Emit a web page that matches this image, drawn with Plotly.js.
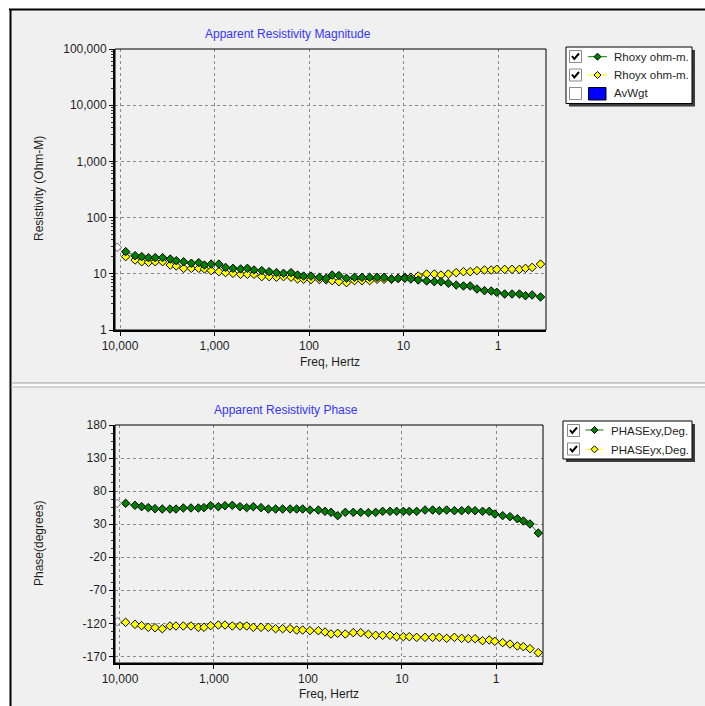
<!DOCTYPE html>
<html><head><meta charset="utf-8">
<script src="https://cdn.plot.ly/plotly-3.0.1.min.js"></script>
<style>html,body{margin:0;padding:0;background:#fff;}#chart{width:705px;height:706px;}</style>
</head><body><div id="chart"></div>
<script>
// ---------- data ----------
const freq = [8710, 6925, 5884, 4995, 4242, 3545, 2939, 2537, 2120, 1757, 1468, 1278, 1085, 899, 764, 638, 529, 449, 382, 316, 264, 221, 186, 155, 132, 114, 95.3, 77.6, 65.9, 56.9, 48.3, 40.1, 33.0, 27.5, 22.8, 19.05, 16.06, 13.4, 11.4, 9.68, 8.36, 6.98, 5.69, 4.72, 4.01, 3.35, 2.77, 2.32, 1.97, 1.67, 1.39, 1.18, 1.03, 0.85, 0.71, 0.593, 0.512, 0.435, 0.355];
const rhoxy = [24.8, 21.0, 20.2, 19.4, 19.4, 19.4, 18.3, 17.1, 16.4, 15.4, 15.8, 14.3, 14.9, 14.9, 13.0, 12.5, 12.2, 12.5, 11.7, 11.4, 10.9, 10.5, 10.2, 10.5, 9.5, 9.1, 9.1, 8.65, 8.3, 9.5, 9.3, 8.3, 8.65, 8.65, 8.65, 8.65, 8.65, 8.08, 8.3, 8.3, 8.08, 7.76, 7.45, 7.24, 7.24, 6.78, 6.32, 6.07, 6.07, 5.37, 5.01, 4.94, 4.68, 4.37, 4.37, 4.37, 4.08, 4.2, 3.87];
const rhoyx = [20.2, 17.6, 16.4, 16.0, 16.4, 16.4, 14.3, 13.8, 12.5, 12.5, 12.5, 12.2, 11.4, 10.9, 10.5, 10.2, 9.8, 9.8, 9.8, 8.9, 8.9, 8.7, 8.9, 8.7, 8.1, 8.0, 7.9, 7.9, 7.8, 7.55, 7.24, 6.95, 7.55, 7.55, 7.55, 7.98, 7.98, 7.98, 8.32, 8.67, 8.67, 9.14, 9.92, 9.92, 9.52, 9.92, 10.5, 10.9, 10.9, 11.4, 11.7, 11.7, 12.0, 12.0, 12.0, 12.0, 12.5, 13.0, 14.9];
const phasexy = [61.5, 58.5, 56.5, 55.0, 53.4, 52.9, 52.9, 52.9, 54.5, 54.5, 54.5, 55.0, 58.0, 56.5, 58.0, 58.5, 56.5, 55.0, 56.5, 55.0, 52.9, 52.9, 52.9, 52.9, 52.9, 52.9, 51.4, 51.4, 49.4, 47.9, 42.9, 47.9, 47.9, 47.9, 47.4, 47.9, 49.4, 49.4, 49.4, 49.4, 49.4, 49.4, 51.4, 51.4, 50.4, 51.4, 50.4, 50.4, 51.4, 50.4, 49.4, 49.4, 45.4, 42.9, 41.4, 38.3, 34.8, 30.3, 16.6];
const phaseyx = [-118.5, -121.5, -123.5, -126.0, -126.6, -128.1, -124.0, -124.0, -124.0, -124.0, -126.0, -126.0, -123.5, -122.5, -122.5, -124.0, -124.0, -124.0, -126.0, -126.0, -126.0, -128.1, -128.1, -128.1, -130.1, -130.1, -131.1, -131.1, -133.1, -136.1, -135.1, -136.1, -134.1, -134.1, -136.6, -138.1, -138.1, -138.1, -140.2, -140.2, -140.2, -141.2, -141.2, -141.2, -141.2, -142.7, -141.2, -142.7, -143.2, -143.2, -146.2, -145.2, -147.2, -149.2, -151.3, -154.3, -155.3, -158.3, -164.4];
// masked first sample (drawn hollow)
const maskedFreq = [10700];
const maskedRhoxy = [29.6];
const maskedRhoyx = [29.6];
const maskedPhasexy = [61.5];
const maskedPhaseyx = [-117.5];

const xTickVals = [10000, 1000, 100, 10, 1];
const xTickText = ["10,000", "1,000", "100", "10", "1"];
const rhoTickVals = [1, 10, 100, 1000, 10000, 100000];
const rhoTickText = ["1", "10", "100", "1,000", "10,000", "100,000"];
const phaseTickVals = [-170, -120, -70, -20, 30, 80, 130, 180];
const phaseTickText = ["-170", "-120", "-70", "-20", "30", "80", "130", "180"];

const topTitle = "Apparent Resistivity Magnitude";
const botTitle = "Apparent Resistivity Phase";
const legendTop = ["Rhoxy ohm-m.", "Rhoyx ohm-m.", "AvWgt"];
const legendBot = ["PHASExy,Deg.", "PHASEyx,Deg."];

// ---------- helpers ----------
const W = 705, H = 706;
const X = p => p / W;
const Y = p => 1 - p / H;
const FONT = "Liberation Sans, Arial, sans-serif";
const GREEN = "#008000", YELLOW = "#ffff00";
const tickFont = {family: FONT, size: 12, color: "#1e1e1e"};

function series(x, y, color, xa, ya, name) {
  return {x: x, y: y, xaxis: xa, yaxis: ya, name: name, type: "scatter", mode: "lines+markers",
    line: {color: color, width: 1},
    marker: {symbol: "diamond", size: 6.5, color: color, line: {color: "#000", width: 1}},
    showlegend: false, hoverinfo: "x+y"};
}
function masked(x, y, xa, ya) {
  return {x: x, y: y, xaxis: xa, yaxis: ya, type: "scatter", mode: "markers",
    marker: {symbol: "diamond", size: 6.5, color: "rgba(255,255,255,0.7)", line: {color: "#7a7a7a", width: 1}},
    showlegend: false, hoverinfo: "skip"};
}

const traces = [
  series(freq, rhoyx, YELLOW, "x", "y", legendTop[1]),
  series(freq, rhoxy, GREEN, "x", "y", legendTop[0]),
  masked(maskedFreq, maskedRhoyx, "x", "y"),
  masked(maskedFreq, maskedRhoxy, "x", "y"),
  series(freq, phasexy, GREEN, "x2", "y2", legendBot[0]),
  series(freq, phaseyx, YELLOW, "x2", "y2", legendBot[1]),
  masked(maskedFreq, maskedPhasexy, "x2", "y2"),
  masked(maskedFreq, maskedPhaseyx, "x2", "y2")
];

const axCommon = {
  showgrid: true, gridcolor: "#8a8a8a", gridwidth: 1, griddash: "3px,3px",
  showline: true, linecolor: "#000", linewidth: 2,
  ticks: "outside", ticklen: 4, tickcolor: "#000", tickwidth: 1,
  tickfont: tickFont, zeroline: false, fixedrange: true
};
const xa = (dom, range, anchor) => Object.assign({}, axCommon, {
  type: "log", domain: dom, range: range, anchor: anchor,
  tickmode: "array", tickvals: xTickVals, ticktext: xTickText
});

const layout = {
  width: W, height: H, margin: {l: 0, r: 0, t: 0, b: 0},
  paper_bgcolor: "#ffffff", plot_bgcolor: "rgba(0,0,0,0)",
  font: {family: FONT, size: 12, color: "#1e1e1e"},
  showlegend: false,
  xaxis: xa([X(115), X(546)], [4.053, -0.508], "y"),
  yaxis: Object.assign({}, axCommon, {
    type: "log", domain: [Y(330), Y(49)], range: [0, 5], anchor: "x",
    tickmode: "array", tickvals: rhoTickVals, ticktext: rhoTickText,
    minor: {dtick: "D1", ticks: "outside", ticklen: 2, tickcolor: "#333", showgrid: false}
  }),
  xaxis2: xa([X(115), X(543)], [4.053, -0.5], "y2"),
  yaxis2: Object.assign({}, axCommon, {
    domain: [Y(663), Y(425)], range: [-180, 180], anchor: "x2",
    tickmode: "array", tickvals: phaseTickVals, ticktext: phaseTickText,
    minor: {tick0: -170, dtick: 12.5, ticks: "outside", ticklen: 2, tickcolor: "#333", showgrid: false}
  }),
  shapes: [], annotations: []
};

const S = layout.shapes, A = layout.annotations;
// window background and frame
S.push({type: "rect", xref: "paper", yref: "paper", x0: X(10), x1: X(705), y0: Y(706), y1: Y(9),
  fillcolor: "#f0f0f0", line: {width: 0}, layer: "below"});
S.push({type: "line", xref: "paper", yref: "paper", x0: X(9), x1: X(705), y0: Y(9.5), y1: Y(9.5), line: {color: "#000", width: 2}});
S.push({type: "line", xref: "paper", yref: "paper", x0: X(10.5), x1: X(10.5), y0: Y(9), y1: Y(706), line: {color: "#000", width: 2}});
// separator between the two panels
S.push({type: "rect", xref: "paper", yref: "paper", x0: X(11), x1: X(705), y0: Y(387), y1: Y(383),
  fillcolor: "#fafafa", line: {width: 0}, layer: "below"});
S.push({type: "line", xref: "paper", yref: "paper", x0: X(11), x1: X(705), y0: Y(383), y1: Y(383), line: {color: "#a0a0a0", width: 1}});
S.push({type: "line", xref: "paper", yref: "paper", x0: X(11), x1: X(705), y0: Y(387), y1: Y(387), line: {color: "#b4b4b4", width: 1}});
// thin plot borders
[["x", "y"], ["x2", "y2"]].forEach(([a, b]) => {
  S.push({type: "rect", xref: a + " domain", yref: b + " domain", x0: 0, x1: 1, y0: 0, y1: 1,
    line: {color: "#000", width: 1}, fillcolor: "rgba(0,0,0,0)"});
});

// titles
function txt(t, x, y, opts) {
  A.push(Object.assign({text: t, x: X(x), y: Y(y), xref: "paper", yref: "paper", showarrow: false,
    xanchor: "center", yanchor: "middle", font: {family: FONT, size: 12, color: "#1e1e1e"}}, opts || {}));
}
txt(topTitle, 288, 33.5, {font: {family: FONT, size: 12, color: "#3535ff"}});
txt(botTitle, 286, 409.5, {font: {family: FONT, size: 12, color: "#3535ff"}});
txt("Resistivity (Ohm-M)", 39, 189, {textangle: -90});
txt("Phase(degrees)", 39, 544, {textangle: -90});
txt("Freq, Hertz", 330, 361.5);
txt("Freq, Hertz", 329, 694);

// custom legends with check boxes
function legendBox(x0, y0, x1, y1) {
  S.push({type: "rect", xref: "paper", yref: "paper", x0: X(x0 + 3), x1: X(x1 + 3), y0: Y(y1 + 3), y1: Y(y0 + 3),
    fillcolor: "#3c3c3c", line: {width: 0}});
  S.push({type: "rect", xref: "paper", yref: "paper", x0: X(x0), x1: X(x1), y0: Y(y1), y1: Y(y0),
    fillcolor: "#ffffff", line: {color: "#000", width: 1}});
}
function checkBox(x, y, checked) {
  S.push({type: "rect", xref: "paper", yref: "paper", x0: X(x), x1: X(x + 12), y0: Y(y + 12), y1: Y(y),
    fillcolor: "#ffffff", line: {color: "#8a8a8a", width: 1}});
  if (checked) {
    S.push({type: "path", xref: "paper", yref: "paper",
      path: `M${X(x + 2.5)},${Y(y + 5.5)} L${X(x + 4.8)},${Y(y + 8.5)} L${X(x + 9.5)},${Y(y + 3)}`,
      line: {color: "#000", width: 2}});
  }
}
function sample(x0, x1, y, color) {
  S.push({type: "line", xref: "paper", yref: "paper", x0: X(x0), x1: X(x1), y0: Y(y), y1: Y(y), line: {color: color, width: 1}});
  const cx = (x0 + x1) / 2, r = 3.5;
  S.push({type: "path", xref: "paper", yref: "paper",
    path: `M${X(cx)},${Y(y - r)} L${X(cx + r)},${Y(y)} L${X(cx)},${Y(y + r)} L${X(cx - r)},${Y(y)} Z`,
    fillcolor: color, line: {color: "#000", width: 1}});
}
const legFont = {family: FONT, size: 11.5, color: "#1e1e1e"};
legendBox(566, 47, 692, 103.5);
checkBox(569.5, 50.5, true); sample(588, 607, 56.7, GREEN);
txt(legendTop[0], 611.5, 57, {xanchor: "left", font: legFont});
checkBox(569.5, 69, true); sample(588, 607, 75, YELLOW);
txt(legendTop[1], 611.5, 75.5, {xanchor: "left", font: legFont});
checkBox(569.5, 87.5, false);
S.push({type: "rect", xref: "paper", yref: "paper", x0: X(588.5), x1: X(606), y0: Y(100), y1: Y(87.5),
  fillcolor: "#0000ff", line: {color: "#000", width: 1}});
txt(legendTop[2], 611.5, 93.5, {xanchor: "left", font: legFont});

legendBox(563, 421, 692, 459);
checkBox(567.5, 424.5, true); sample(585.5, 603.5, 430, GREEN);
txt(legendBot[0], 608.5, 430.5, {xanchor: "left", font: legFont});
checkBox(567.5, 443, true); sample(585.5, 603.5, 449.3, YELLOW);
txt(legendBot[1], 608.5, 449.5, {xanchor: "left", font: legFont});

Plotly.newPlot("chart", traces, layout, {staticPlot: true, displayModeBar: false});
</script>
</body></html>
